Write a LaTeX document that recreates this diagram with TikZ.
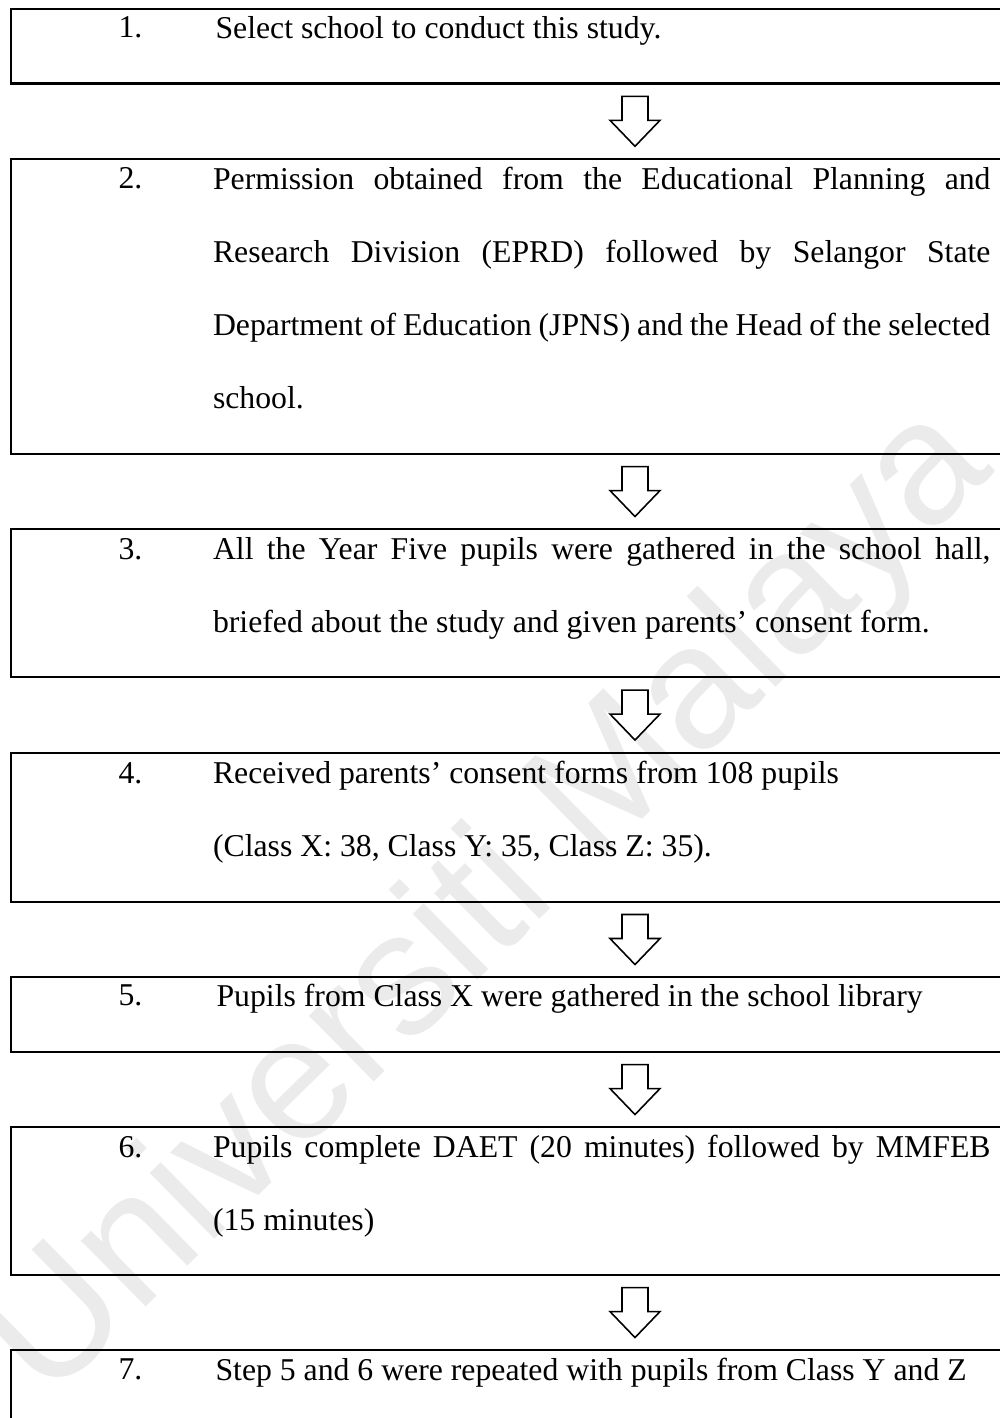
\documentclass[tikz,border=0pt]{standalone}
\usepackage{fontspec}
\usepackage{graphicx}
\setmainfont{Liberation Serif}
\newfontfamily\wmfont{Liberation Sans}
\usetikzlibrary{calc}
\hyphenpenalty=10000
\exhyphenpenalty=10000
\setlength\parindent{0pt}
\newcommand\bodyfont{\fontsize{12pt}{27.7pt}\selectfont}

% hollow block arrow centred in the gap between two step boxes
\newcommand\blockdown[2]{%
  \coordinate (m-#1) at ($(#1.south west)!0.5!(#2.north west)$);
  \draw[flowarrow] ($(m-#1)+(612,-25)$) -- ++(26,0) -- ++(0,24) -- ++(12,0)
    -- ++(-25,26) -- ++(-25,-26) -- ++(12,0) -- cycle;}

\begin{document}
\begin{tikzpicture}[x=0.378pt, y=-0.378pt,
  stepbox/.style={draw, line width=0.8pt, anchor=north west, inner sep=0pt,
    minimum width=378pt},
  stepnum/.style={anchor=base west, inner sep=0pt, font=\bodyfont},
  steptext/.style={anchor=north west, inner sep=0pt, yshift=10pt, align=justify,
    font=\bodyfont, text width=#1, execute at begin node={\rule{0pt}{10pt}}},
  steptext/.default=293.9pt,
  flowarrow/.style={draw, fill=white, line width=0.6pt, line join=miter}]

\useasboundingbox (0,0) rectangle (1000,1418);
\clip (0,0) rectangle (1000,1418);

% faint diagonal watermark
\node[rotate=44.5, text=black!8, font=\wmfont, inner sep=0pt] (wm) at (490,905)
  {\resizebox{503pt}{!}{Universiti Malaya}};

% step boxes
\node[stepbox, minimum height=28.35pt] (b1) at (10,7.5) {};
\node[stepbox, minimum height=111.5pt] (b2) at (10,158) {};
\node[stepbox, minimum height=55.94pt] (b3) at (10,528) {};
\node[stepbox, minimum height=56.3pt] (b4) at (10,752) {};
\node[stepbox, minimum height=28.35pt] (b5) at (10,976) {};
\node[stepbox, minimum height=55.94pt] (b6) at (10,1126) {};
\node[stepbox, minimum height=28.35pt] (b7) at (10,1349) {};

% step numbers
\node[stepnum] (n1) at (118,37.5) {1.};
\node[stepnum] (n2) at (118,188.5) {2.};
\node[stepnum] (n3) at (118,559) {3.};
\node[stepnum] (n4) at (118,783) {4.};
\node[stepnum] (n5) at (118,1005.5) {5.};
\node[stepnum] (n6) at (118,1157) {6.};
\node[stepnum] (n7) at (118,1379.5) {7.};

% step descriptions
\node[steptext=292.7pt] (t1) at (215,37.5) {Select school to conduct this study.};
\node[steptext] (t2) at (212.5,188.5) {Permission obtained from the Educational Planning and\linebreak
  Research Division (EPRD) followed by Selangor State\linebreak
  Department of Education (JPNS) and the Head of the selected\linebreak
  school.};
\node[steptext] (t3) at (212.5,559) {All the Year Five pupils were gathered in the school hall,\linebreak
  briefed about the study and given parents’ consent form.};
\node[steptext] (t4) at (212.5,783) {Received parents’ consent forms from 108 pupils\\
  (Class X: 38, Class Y: 35, Class Z: 35).};
\node[steptext=292.7pt] (t5) at (216,1005.5) {Pupils from Class X were gathered in the school library};
\node[steptext] (t6) at (212.5,1157) {Pupils complete DAET (20 minutes) followed by MMFEB\linebreak
  (15 minutes)};
\node[steptext=292.7pt] (t7) at (215,1379.5) {Step 5 and 6 were repeated with pupils from Class Y and Z};

% arrows between consecutive steps
\blockdown{b1}{b2}
\blockdown{b2}{b3}
\blockdown{b3}{b4}
\blockdown{b4}{b5}
\blockdown{b5}{b6}
\blockdown{b6}{b7}
\end{tikzpicture}
\end{document}
